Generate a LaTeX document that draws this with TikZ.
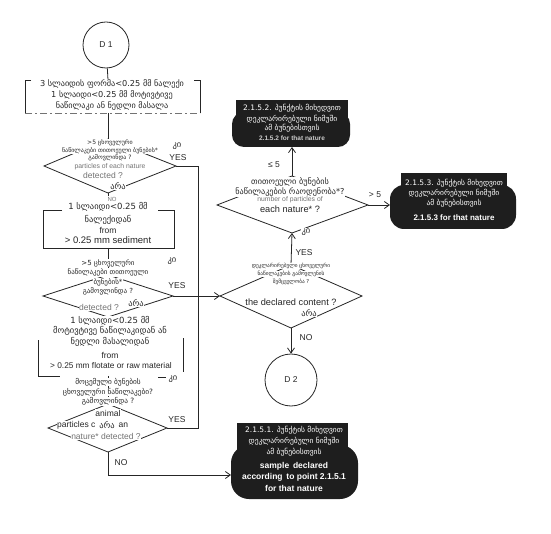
\documentclass[tikz,border=0pt]{standalone}
\usepackage{fontspec}
\setmainfont{Liberation Sans}
\newfontfamily\geo{DejaVu Sans}
\usetikzlibrary{arrows.meta}
\definecolor{bk}{HTML}{1E1E1E}
\definecolor{ink}{HTML}{262626}
\begin{document}
\begin{tikzpicture}[x=1pt,y=-1pt,
  ln/.style={line width=0.8pt, draw=ink},
  arr/.style={ln, -{Straight Barb[length=5pt,width=7pt]}},
  gt/.style={font=\geo\fontsize{#1}{#1}\selectfont, inner sep=0.4pt, fill=white, text=ink},
  gt/.default=8,
  et/.style={font=\fontsize{#1}{#1}\selectfont, inner sep=0.4pt, fill=white, text=ink},
  et/.default=8,
  faint/.style={text=black!55},
  wg/.style={font=\geo\fontsize{7.5}{7.5}\selectfont, inner sep=0.3pt, text=white},
  wb/.style={font=\bfseries\fontsize{#1}{#1}\selectfont, inner sep=0.3pt, text=white},
  wb/.default=8.5,
  circ/.style={circle, ln, draw, inner sep=0pt, font=\fontsize{8.5}{8.5}\selectfont, text=ink}
]
\useasboundingbox (0,0) rectangle (551,534);
\fill[white] (0,0) rectangle (551,534);

% ---------- coordinates ----------
\coordinate (b1t) at (108,80);  \coordinate (b1b) at (108,113);
\coordinate (d1t) at (108,139); \coordinate (d1l) at (44,166);
\coordinate (d1r) at (176,166); \coordinate (d1b) at (108,193);
\coordinate (b2t) at (108,210); \coordinate (b2b) at (108,248);
\coordinate (d2t) at (108,275); \coordinate (d2l) at (43,296);
\coordinate (d2r) at (173,296); \coordinate (d2b) at (108,317);
\coordinate (b3t) at (108,322); \coordinate (b3b) at (108,376);
\coordinate (d3t) at (108,404); \coordinate (d3l) at (48,428);
\coordinate (d3r) at (167,428); \coordinate (d3b) at (108,452);
\coordinate (j1) at (198,166);  \coordinate (j3) at (198,428);
\coordinate (nc) at (108,475);  \coordinate (bx1w) at (231,475);
\coordinate (r1t) at (292,176); \coordinate (r1l) at (217,205);
\coordinate (r1r) at (368,205); \coordinate (r1b) at (292,233);
\coordinate (r2t) at (291,265); \coordinate (r2l) at (220,296);
\coordinate (r2r) at (362,296); \coordinate (r2b) at (291,328);
\coordinate (bx2b) at (292,147); \coordinate (bx3w) at (390,205);

% ---------- circles ----------
\node[circ, minimum size=46pt] (D1) at (106,45) {D 1};
\node[circ, minimum size=52pt] (D2) at (291,380) {D 2};

% ---------- black terminal boxes ----------
\fill[bk] (236,100) rectangle (348,128);
\fill[bk, rounded corners=12pt] (232,112) rectangle (350,147);
\fill[bk] (401,173) rectangle (507,200);
\fill[bk, rounded corners=14pt] (390,185) rectangle (516,229);
\fill[bk] (237,423) rectangle (348,460);
\fill[bk, rounded corners=18pt] (231,445) rectangle (358,499);

% ---------- process boxes (brackets) ----------
\draw[ln] (31,80) -| (25,113);
\draw[ln] (194,80) -| (200,113);
\draw[line width=0.6pt, draw=black!55, dash pattern=on 7pt off 3pt on 2pt off 3pt] (25,113) -- (200,113);
\draw[ln] (62,210) -| (43,248) -| (174,210) -- (158,210);
\draw[ln] (38,340) |- (60,376);
\draw[ln] (158,377) -- (166,377);
\draw[ln] (183,338) -- (183,372);

% ---------- diamonds ----------
\draw[ln] (d1t) -- (d1r) -- (d1b) -- (d1l) -- cycle;
\draw[ln] (d2t) -- (d2r) -- (d2b) -- (d2l) -- cycle;
\draw[ln] (d3t) -- (d3r) -- (d3b) -- (d3l) -- cycle;
\draw[ln] (r1t) -- (r1r) -- (r1b) -- (r1l) -- cycle;
\draw[ln] (r2t) -- (r2r) -- (r2b) -- (r2l) -- cycle;

% ---------- connectors ----------
\draw[ln] (D1) -- (b1t);
\draw[ln] (b1b) -- (d1t);
\draw[ln] (d1b) -- (b2t);
\draw[ln] (b2b) -- (d2t);
\draw[ln] (d2b) -- (b3t);
\draw[ln] (b3b) -- (d3t);
\draw[ln] (d1r) -- (j1) -- (j3) -- (d3r);
\draw[arr] (d2r) -- (r2l);
\draw[arr] (d3b) -- (nc) -- (bx1w);
\draw[arr] (r2t) -- (r1b);
\draw[arr] (r1t) -- (bx2b);
\draw[arr] (r1r) -- (bx3w);
\draw[arr] (r2b) -- (D2);

% ---------- box 1 text ----------
\node[gt=8.2] (t11) at (112,84) {3 სლაიდის ფორმა<0.25 მმ ნალექი};
\node[gt=8.2] (t12) at (112,95) {1 სლაიდი<0.25 მმ მოტივტივე};
\node[gt=8.2] (t13) at (112,106) {ნაწილაკი ან ნედლი მასალა};

% ---------- diamond 1 text ----------
\node[gt=6] (t21) at (110,143) {>5 ცხოველური};
\node[gt=6] (t22) at (110,150.5) {ნაწილაკები თითოეული ბუნების*};
\node[gt=6] (t23) at (110,158) {გამოვლინდა ?};
\node[et=6.8, faint] (t24) at (110,166.5) {particles of each nature};
\node[et=8.5, faint] (t25) at (103,175.5) {detected ?};
\node[gt=8.5] (t26) at (118,186) {არა};
\node[et=6, faint] (t27) at (112,199) {NO};
\node[gt=8.5] (t28) at (177,146) {კი};
\node[et=8.5] (t29) at (178,158) {YES};

% ---------- box 2 text ----------
\node[gt=8.5] (t31) at (108,207) {1 სლაიდი<0.25 მმ};
\node[gt=8.5] (t32) at (108,219.5) {ნალექიდან};
\node[et=8.5] (t33) at (108,230) {from};
\node[et=9.5] (t34) at (108,240) {> 0.25 mm sediment};

% ---------- diamond 2 text ----------
\node[gt=8.5] (t40) at (172,261) {კი};
\node[gt=7] (t41) at (108,263) {>5 ცხოველური};
\node[gt=7] (t42) at (108,272.5) {ნაწილაკები თითოეული};
\node[gt=7] (t43) at (108,282) {ბუნების*};
\node[gt=7] (t44) at (108,291.5) {გამოვლინდა ?};
\node[et=8.5] (t45) at (177,286) {YES};
\node[et=8.5, faint] (t46) at (99,307) {detected ?};
\node[gt=8.5] (t47) at (136,303) {არა};

% ---------- box 3 text ----------
\node[gt=8.5] (t51) at (110,320.5) {1 სლაიდი<0.25 მმ};
\node[gt=8.5] (t52) at (110,331) {მოტივტივე ნაწილაკიდან ან};
\node[gt=8.5] (t53) at (110,341.5) {ნედლი მასალიდან};
\node[et=8.5] (t54) at (110,355) {from};
\node[et=8.3] (t55) at (111,366) {> 0.25 mm flotate or raw material};

% ---------- diamond 3 text ----------
\node[gt=7.3] (t61) at (108,382) {მოცემული ბუნების};
\node[gt=7.3] (t62) at (108,392) {ცხოველური ნაწილაკები?};
\node[gt=7.3] (t63) at (108,401.5) {გამოვლინდა ?};
\node[gt=8.5] (t64) at (173,379) {კი};
\node[et=8.5] (t65) at (108,413) {animal};
\node[et=8.5, anchor=east] (t66) at (96,425) {particles c};
\node[gt=8.5] (t67) at (107,425) {არა};
\node[et=8.5, anchor=west] (t66b) at (118,425) {an};
\node[et=8.5, faint] (t68) at (106,436) {nature* detected ?};
\node[et=8.5] (t69) at (177,420) {YES};
\node[et=8.5] (t60) at (121,463) {NO};

% ---------- right diamond 2 text ----------
\node[gt=5.3] (t71) at (291,266) {დეკლარირებული ცხოველური};
\node[gt=5.3] (t72) at (291,274) {ნაწილაკების გამოვლენის};
\node[gt=5.3] (t73) at (291,282) {შემცველობა ?};
\node[et=9.2] (t74) at (291,302) {the declared content ?};
\node[gt=8.5] (t75) at (309,313) {არა};
\node[et=8.5] (t76) at (306,338) {NO};
\node[et=8.5] (t77) at (304,253) {YES};
\node[gt=8.5] (t78) at (306,232) {კი};

% ---------- right diamond 1 text ----------
\node[gt=8.2] (t81) at (290,182) {თითოეული ბუნების};
\node[gt=8.2] (t82) at (290,192) {ნაწილაკების რაოდენობა*?};
\node[et=6.8, faint] (t83) at (290,200) {number of particles of};
\node[et=9.2] (t84) at (290,209) {each nature* ?};
\node[et=8.5] (t85) at (274,165) {≤ 5};
\node[et=8.5] (t86) at (375,195) {> 5};

% ---------- black box texts ----------
\node[wg] (u11) at (292,108) {2.1.5.2. პუნქტის მიხედვით};
\node[wg] (u12) at (292,119) {დეკლარირებული ნიმუში};
\node[wg] (u13) at (292,128) {ამ ბუნებისთვის};
\node[wb=6.5, text=white!80!black] (u14) at (292,138) {2.1.5.2 for that nature};

\node[wg] (u21) at (454,183) {2.1.5.3. პუნქტის მიხედვით};
\node[wg] (u22) at (454,193) {დეკლარირებული ნიმუში};
\node[wg] (u23) at (454,203) {ამ ბუნებისთვის};
\node[wb=8] (u24) at (454,218) {2.1.5.3 for that nature};

\node[wg] (u31) at (294,430) {2.1.5.1. პუნქტის მიხედვით};
\node[wg] (u32) at (294,441) {დეკლარირებული ნიმუში};
\node[wg] (u33) at (294,452) {ამ ბუნებისთვის};
\node[wb=8.5] (u34) at (294,466) {sample\, declared};
\node[wb=8.5] (u35) at (294,477) {according\, to point 2.1.5.1};
\node[wb=8.5] (u36) at (294,488) {for that nature};
\end{tikzpicture}
\end{document}
